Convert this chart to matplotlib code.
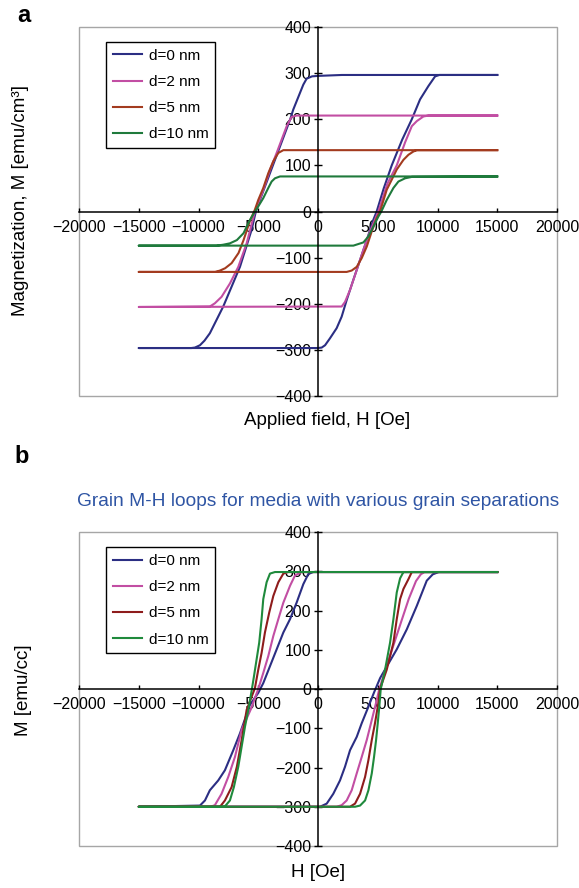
import matplotlib
matplotlib.use('Agg')
import matplotlib.pyplot as plt
from matplotlib.patches import Rectangle
from matplotlib import font_manager

plt.rcParams['font.family'] = ['Liberation Sans', 'DejaVu Sans']

_names = {f.name for f in font_manager.fontManager.ttflist}
if 'Liberation Sans Narrow' in _names:
    TICK_FAMILY, TICK_SIZE = ['Liberation Sans Narrow', 'DejaVu Sans'], 13.0
else:
    TICK_FAMILY, TICK_SIZE = ['Liberation Sans', 'DejaVu Sans'], 11.5

labels = ['d=0 nm', 'd=2 nm', 'd=5 nm', 'd=10 nm']
colors_a = ['#2B2E83', '#C24EA3', '#A33B1F', '#1F7A3C']
colors_b = ['#2B2E83', '#C24EA3', '#8E1C1C', '#1F8A3C']

x_ticks = [-20000, -15000, -10000, -5000, 0, 5000, 10000, 15000, 20000]
y_ticks = [-400, -300, -200, -100, 0, 100, 200, 300, 400]

# ---------------- panel a : loops (descending then ascending) ----------------
a_d0_H = [15000, 2000, 0, -500, -950, -1230, -1510, -1790, -2070, -2340, -2760, -3180, -3600, -4020,
          -4440, -4860, -5200, -5560, -6530, -7930, -9050, -9500, -9880, -10300, -10600, -15000,
          -15000, 0, 310, 590, 1000, 1560, 1980, 2400, 2960, 3520, 4080, 4630, 4910, 5500, 6170,
          7050, 7850, 8540, 9240, 9800, 10160, 15000]
a_d0_M = [296, 296, 294, 293, 288, 275, 257, 239, 221, 199, 170, 141, 112, 83,
          54, 25, 0, -40, -120, -206, -264, -280, -290, -295, -296, -296,
          -296, -296, -295, -290, -275, -253, -228, -192, -148, -105, -62, -18, 0, 50, 100,
          156, 200, 243, 272, 293, 296, 296]

a_d2_H = [15000, 0, -1800, -2210, -2620, -3040, -3460, -4020, -4600, -5280, -5970, -6670, -7370,
          -8070, -8630, -9050, -15000,
          -15000, 1980, 2260, 2680, 3240, 3800, 4360, 5050, 5800, 6590, 7290, 7850, 8270, 8820,
          9240, 15000]
a_d2_M = [208, 208, 208, 205, 185, 156, 127, 90, 45, 0, -69, -120, -156,
          -185, -199, -206, -207,
          -207, -206, -196, -170, -127, -83, -43, 0, 60, 100, 150, 185, 196, 206,
          208, 208]

a_d5_H = [15000, -2900, -3320, -3740, -4160, -4580, -5000, -5280, -5690, -6230, -6650, -7230,
          -7770, -8200, -8600, -15000,
          -15000, 2400, 2820, 3240, 3660, 4080, 4500, 4910, 5190, 5750, 6590, 7150, 7570, 7980,
          8270, 15000]
a_d5_M = [133, 133, 127, 109, 83, 51, 25, 4, -20, -62, -90, -112,
          -123, -128, -131, -131,
          -131, -131, -128, -120, -101, -76, -43, -14, 0, 47, 91, 112, 123, 130,
          133, 133]

a_d10_H = [15000, -3180, -3600, -3880, -4160, -4580, -5000, -5300, -5690, -6230, -6790, -7370,
           -7930, -8500, -15000,
           -15000, 2960, 3800, 4220, 4630, 5050, 5300, 5750, 6310, 6730, 7290, 7850, 15000]
a_d10_M = [76, 76, 72, 65, 51, 29, 11, -1, -18, -47, -62, -69,
           -72, -74, -74,
           -74, -74, -67, -54, -33, -11, 0, 25, 51, 65, 72, 75, 76]

# ---------------- panel b ----------------
b_d0_H = [15000, -390, -810, -1230, -1790, -2340, -2900, -3460, -4020, -4580, -5000, -5690, -6530,
          -7090, -7790, -8350, -9050, -9460, -9880, -15000,
          -15000, 170, 730, 1280, 1840, 2260, 2680, 3240, 3660, 4220, 4700, 5200, 5750, 6590,
          7430, 8270, 9100, 9600, 10100, 15000]
b_d0_M = [298, 298, 293, 267, 220, 178, 144, 101, 58, 15, -10, -40, -113,
          -156, -207, -233, -258, -284, -297, -300,
          -300, -300, -292, -267, -233, -198, -156, -122, -87, -45, -8, 28, 57, 101,
          152, 212, 276, 292, 298, 298]

b_d2_H = [15000, -1370, -1930, -2340, -2900, -3320, -3740, -4160, -4580, -5000, -5600, -6390,
          -6950, -7510, -8070, -8630, -9000, -15000,
          -15000, 1560, 1980, 2400, 2820, 3240, 3660, 4080, 4500, 4860, 5130, 5650, 6300,
          7000, 7600, 8200, 8600, 8900, 15000]
b_d2_M = [298, 298, 289, 263, 220, 178, 135, 84, 41, 0, -50, -104,
          -173, -224, -267, -296, -300, -300,
          -300, -300, -296, -284, -258, -215, -173, -130, -79, -35, 0, 50, 110,
          175, 230, 275, 292, 298, 298]

b_d5_H = [15000, -2490, -2900, -3320, -3740, -4080, -4440, -4720, -5000, -5280, -5970, -6390,
          -6790, -7230, -7790, -8200, -15000,
          -15000, 2680, 3100, 3520, 3940, 4220, 4500, 4770, 5050, 5190, 5750, 6310, 6590,
          6870, 7150, 7570, 7850, 15000]
b_d5_M = [298, 298, 294, 272, 237, 195, 144, 92, 49, 2, -53, -130,
          -198, -250, -284, -300, -300,
          -300, -300, -292, -267, -224, -181, -130, -87, -36, 0, 49, 118, 178,
          229, 255, 280, 298, 298]

b_d10_H = [15000, -3600, -4020, -4300, -4580, -4720, -4920, -5140, -5360, -5530, -5830, -6110,
           -6390, -6670, -7040, -7370, -7790, -8100, -15000,
           -15000, 3100, 3520, 3940, 4220, 4500, 4690, 4860, 5000, 5130, 5250, 5610, 6030,
           6310, 6590, 6870, 7150, 15000]
b_d10_M = [298, 298, 294, 272, 229, 178, 118, 75, 32, 0, -53, -96,
           -147, -198, -250, -284, -299, -300, -300,
           -300, -300, -297, -284, -258, -215, -173, -130, -87, -45, 0, 49, 118,
           178, 246, 282, 298, 298]

a_series = [(a_d0_H, a_d0_M), (a_d2_H, a_d2_M), (a_d5_H, a_d5_M), (a_d10_H, a_d10_M)]
b_series = [(b_d0_H, b_d0_M), (b_d2_H, b_d2_M), (b_d5_H, b_d5_M), (b_d10_H, b_d10_M)]

W, H = 579, 888
fig = plt.figure(figsize=(W / 100, H / 100), dpi=100)


def px_axes(left, top, right, bottom):
    return fig.add_axes([left / W, 1 - bottom / H, (right - left) / W, (bottom - top) / H])


def style_axes(ax):
    ax.set_xlim(-20000, 20000)
    ax.set_ylim(-400, 400)
    for s in ['top', 'right']:
        ax.spines[s].set_visible(False)
    ax.spines['left'].set_position(('data', 0))
    ax.spines['bottom'].set_position(('data', 0))
    for s in ['left', 'bottom']:
        ax.spines[s].set_color('black')
        ax.spines[s].set_linewidth(1.1)
    ax.add_patch(Rectangle((0, 0), 1, 1, transform=ax.transAxes, fill=False,
                           edgecolor='#A6A6A6', linewidth=1.0, clip_on=False, zorder=0))
    ax.set_xticks(x_ticks)
    ax.set_xticklabels([str(v).replace('-', '\u2212') for v in x_ticks])
    ax.set_yticks(y_ticks)
    ax.set_yticklabels([str(v).replace('-', '\u2212') for v in y_ticks])
    ax.tick_params(axis='x', direction='in', length=3.2, width=1.0, pad=6.0)
    ax.tick_params(axis='y', direction='inout', length=6.0, width=1.0, pad=2.0)
    for lab in ax.get_xticklabels() + ax.get_yticklabels():
        lab.set_family(TICK_FAMILY)
        lab.set_fontsize(TICK_SIZE)


def add_legend(ax, lines, yanchor):
    leg = ax.legend(lines, labels, loc='upper left', bbox_to_anchor=(0.0565, yanchor),
                    borderaxespad=0, fontsize=11, frameon=True, fancybox=False,
                    edgecolor='black', framealpha=1, handlelength=1.9, handletextpad=0.45,
                    labelspacing=0.8, borderpad=0.45)
    leg.get_frame().set_linewidth(1.0)


# panel a
ax_a = px_axes(79, 27, 557, 396)
style_axes(ax_a)
lines_a = []
for (hh, mm), c in zip(a_series, colors_a):
    ln, = ax_a.plot(hh, mm, color=c, lw=1.5)
    lines_a.append(ln)
add_legend(ax_a, lines_a, 0.9596)
ax_a.set_xlabel('Applied field, H [Oe]', fontsize=13.5)
ax_a.xaxis.set_label_coords(0.52, -(420 - 396) / 369)
ax_a.xaxis.label.set_verticalalignment('center')
ax_a.set_ylabel('Magnetization, M [emu/cm\u00b3]', fontsize=13.5)
ax_a.yaxis.set_label_coords((21 - 79) / 478, 1 - (200 - 27) / 369)
ax_a.yaxis.label.set_verticalalignment('center')

# panel b
ax_b = px_axes(79, 532, 557, 846)
style_axes(ax_b)
lines_b = []
for (hh, mm), c in zip(b_series, colors_b):
    ln, = ax_b.plot(hh, mm, color=c, lw=1.5)
    lines_b.append(ln)
add_legend(ax_b, lines_b, 1 - (547 - 532) / 314)
ax_b.set_title('Grain M-H loops for media with various grain separations', fontsize=13.8,
               color='#2F55A4', pad=19)
ax_b.set_xlabel('H [Oe]', fontsize=13.5)
ax_b.xaxis.set_label_coords(0.5, -(872 - 846) / 314)
ax_b.xaxis.label.set_verticalalignment('center')
ax_b.set_ylabel('M [emu/cc]', fontsize=13.5)
ax_b.yaxis.set_label_coords((24 - 79) / 478, 0.495)
ax_b.yaxis.label.set_verticalalignment('center')

fig.text(24 / W, 1 - 16 / H, 'a', fontsize=17, fontweight='bold', ha='center', va='center')
fig.text(22 / W, 1 - 456 / H, 'b', fontsize=17, fontweight='bold', ha='center', va='center')

fig.savefig('out.png', dpi=100)
